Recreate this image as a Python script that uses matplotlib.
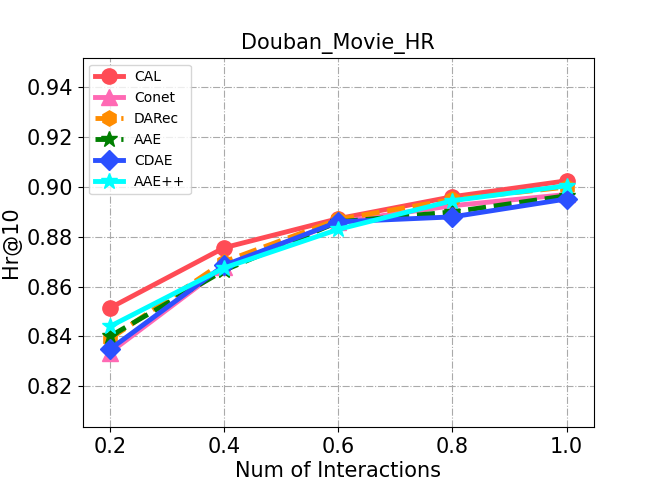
import numpy as np
import matplotlib
matplotlib.use("Agg")
import matplotlib.pyplot as plt

x = [0.2, 0.4, 0.6, 0.8, 1.0]
cal = [0.8514, 0.8756, 0.8873, 0.8961, 0.9025]
conet = [0.8335, 0.8680, 0.8860, 0.8925, 0.8970]
darec = [0.8390, 0.8700, 0.8870, 0.8950, 0.9000]
aae = [0.8400, 0.8665, 0.8860, 0.8900, 0.8965]
cdae = [0.8348, 0.8685, 0.8860, 0.8880, 0.8952]
aaepp = [0.8440, 0.8675, 0.8830, 0.8945, 0.9005]

def main():
    fig, ax = plt.subplots(figsize=(6.6, 4.8), dpi=100)
    fig.subplots_adjust(bottom=0.11)
    lw = 3.5
    ax.plot(x, cal, color="#FF4B55", marker="o", markersize=11, linewidth=lw, label="CAL")
    ax.plot(x, conet, color="#FF69B4", marker="^", markersize=11, linewidth=lw, label="Conet")
    ax.plot(x, darec, color="#FF8C00", marker="h", markersize=11, linewidth=lw,
            linestyle="--", label="DARec")
    ax.plot(x, aae, color="#007F00", marker="*", markersize=12, linewidth=lw,
            linestyle="--", label="AAE")
    ax.plot(x, cdae, color="#2B50FF", marker="D", markersize=10, linewidth=lw, label="CDAE")
    ax.plot(x, aaepp, color="#00FFFF", marker="*", markersize=12, linewidth=lw, label="AAE++")

    ax.set_xlim(0.152, 1.048)
    ax.set_ylim(0.8035, 0.952)
    ax.set_xticks(x)
    ax.set_yticks([0.82, 0.84, 0.86, 0.88, 0.90, 0.92, 0.94])
    ax.tick_params(labelsize=15)
    ax.grid(True, linestyle="-.", color="#AAAAAA")
    ax.set_title("Douban_Movie_HR", fontsize=15)
    ax.set_xlabel("Num of Interactions", fontsize=15, labelpad=3)
    ax.set_ylabel("Hr@10", fontsize=15)
    ax.legend(loc="upper left", fontsize=10)
    fig.savefig("out.png")

if __name__ == "__main__":
    main()
